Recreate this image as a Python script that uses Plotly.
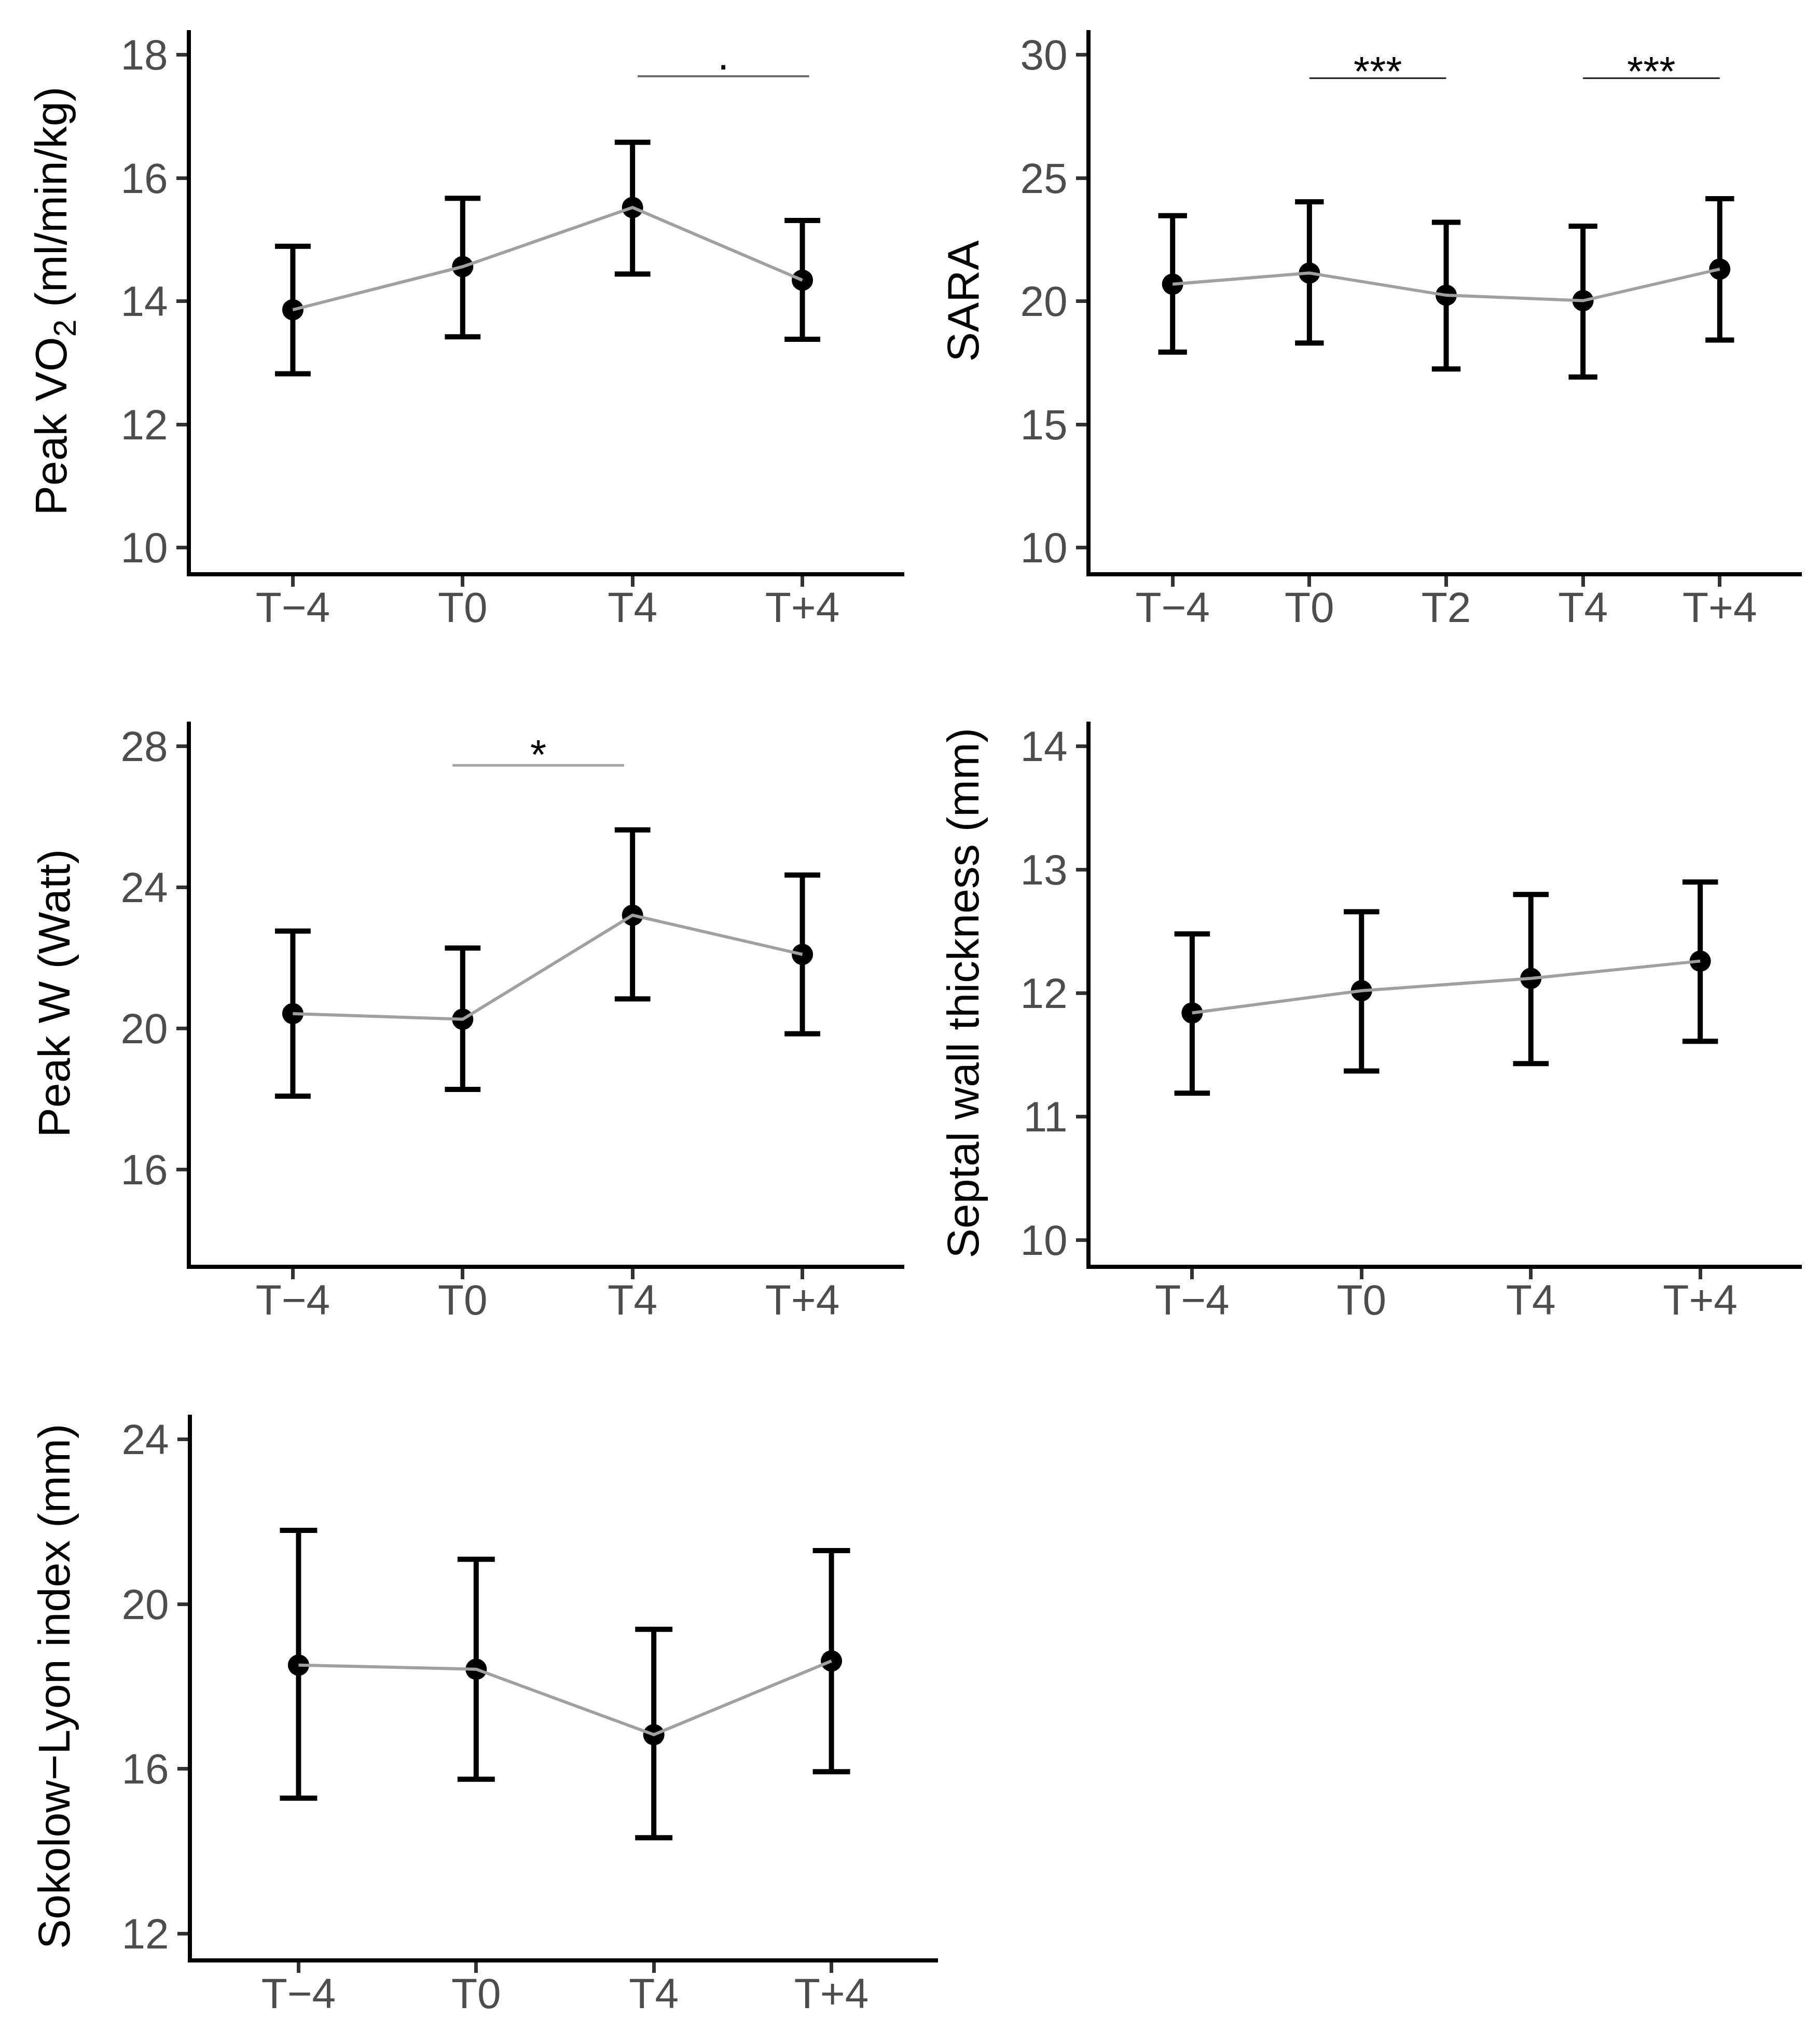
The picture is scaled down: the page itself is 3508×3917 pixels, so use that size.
import plotly.graph_objects as go

# ---- data ----
tp4 = ["T−4", "T0", "T4", "T+4"]
tp5 = ["T−4", "T0", "T2", "T4", "T+4"]

vo2_mean = [13.86, 14.56, 15.52, 14.34]
vo2_low = [12.82, 13.42, 14.44, 13.38]
vo2_high = [14.89, 15.67, 16.58, 15.31]

sara_mean = [20.69, 21.14, 20.24, 20.02, 21.30]
sara_low = [17.93, 18.30, 17.25, 16.92, 18.42]
sara_high = [23.47, 24.03, 23.20, 23.04, 24.16]

watt_mean = [20.42, 20.26, 23.21, 22.10]
watt_low = [18.08, 18.27, 20.84, 19.85]
watt_high = [22.76, 22.28, 25.63, 24.35]

septal_mean = [11.84, 12.02, 12.12, 12.26]
septal_low = [11.19, 11.37, 11.43, 11.61]
septal_high = [12.48, 12.66, 12.80, 12.90]

sokolow_mean = [18.52, 18.42, 16.83, 18.62]
sokolow_low = [15.29, 15.75, 14.33, 15.93]
sokolow_high = [21.79, 21.09, 19.39, 21.30]

# significance brackets: (from index, to index, y, label)
vo2_sig = [(2.03, 3.04, 17.65, ".")]
sara_sig = [(1, 2, 29.05, "***"), (3, 4, 29.05, "***")]
watt_sig = [(0.94, 1.95, 27.46, "*")]

W, H = 3508, 3917
FONT = "Liberation Sans, Arial, sans-serif"

panels = [
    dict(cats=tp4, mean=vo2_mean, low=vo2_low, high=vo2_high,
         title="Peak VO<sub>2</sub> (ml/min/kg)", yr=[9.6, 18.4], ticks=[10, 12, 14, 16, 18],
         xd=(360, 1735), yd=(50, 1095), sig=vo2_sig, sigc="#6e6e6e", sigw=4, tx=96),
    dict(cats=tp5, mean=sara_mean, low=sara_low, high=sara_high,
         title="SARA", yr=[9, 31], ticks=[10, 15, 20, 25, 30],
         xd=(2094, 3465), yd=(50, 1095), sig=sara_sig, sigc="#1a1a1a", sigw=3, tx=1848),
    dict(cats=tp4, mean=watt_mean, low=watt_low, high=watt_high,
         title="Peak W (Watt)", yr=[13.3, 28.7], ticks=[16, 20, 24, 28],
         xd=(360, 1735), yd=(1383, 2430), sig=watt_sig, sigc="#a6a6a6", sigw=5, tx=96),
    dict(cats=tp4, mean=septal_mean, low=septal_low, high=septal_high,
         title="Septal wall thickness (mm)", yr=[9.8, 14.2], ticks=[10, 11, 12, 13, 14],
         xd=(2094, 3465), yd=(1383, 2430), sig=[], sigc="#000", sigw=3, tx=1848),
    dict(cats=tp4, mean=sokolow_mean, low=sokolow_low, high=sokolow_high,
         title="Sokolow−Lyon index (mm)", yr=[11.4, 24.6], ticks=[12, 16, 20, 24],
         xd=(362, 1800), yd=(2719, 3767), sig=[], sigc="#000", sigw=3, tx=96),
]

fig = go.Figure()
shapes = []
annotations = []

for i, p in enumerate(panels, start=1):
    xa = "x" if i == 1 else f"x{i}"
    ya = "y" if i == 1 else f"y{i}"
    n = len(p["cats"])
    pos = list(range(n))
    spacing = (p["xd"][1] - p["xd"][0]) / (n + 0.2)
    err_plus = [h - m for h, m in zip(p["high"], p["mean"])]
    err_minus = [m - l for m, l in zip(p["mean"], p["low"])]

    # points with error bars, then the grey connecting line on top
    fig.add_trace(go.Scatter(
        x=pos, y=p["mean"], xaxis=xa, yaxis=ya, mode="markers",
        marker=dict(color="black", size=41),
        error_y=dict(type="data", symmetric=False, array=err_plus, arrayminus=err_minus,
                     color="black", thickness=10, width=0.105 * spacing),
        showlegend=False, hoverinfo="skip"))
    fig.add_trace(go.Scatter(
        x=pos, y=p["mean"], xaxis=xa, yaxis=ya, mode="lines",
        line=dict(color="#a0a0a0", width=6), showlegend=False, hoverinfo="skip"))

    xdom = [p["xd"][0] / W, p["xd"][1] / W]
    ydom = [1 - p["yd"][1] / H, 1 - p["yd"][0] / H]
    axis_common = dict(showline=True, linecolor="black", linewidth=8, showgrid=False,
                       zeroline=False, ticks="outside", ticklen=20, tickwidth=7,
                       tickcolor="#333333",
                       tickfont=dict(family=FONT, size=82, color="#4d4d4d"))
    fig.layout[f"xaxis{'' if i == 1 else i}"] = dict(
        axis_common, domain=xdom, anchor=ya, range=[-0.6, n - 0.4],
        tickmode="array", tickvals=pos, ticktext=p["cats"], ticklabelstandoff=-30)
    fig.layout[f"yaxis{'' if i == 1 else i}"] = dict(
        axis_common, domain=ydom, anchor=xa, range=p["yr"], tickvals=p["ticks"])

    annotations.append(dict(
        text=p["title"], textangle=-90, xref="paper", yref="paper",
        x=p["tx"] / W, y=(ydom[0] + ydom[1]) / 2, xanchor="center", yanchor="middle",
        showarrow=False, font=dict(family=FONT, size=86, color="black")))

    for x0, x1, yv, lab in p["sig"]:
        shapes.append(dict(type="line", xref=xa, yref=ya, x0=x0, x1=x1, y0=yv, y1=yv,
                           line=dict(color=p["sigc"], width=p["sigw"])))
        shift = 41 if lab == "." else (21 if lab == "*" else 13)
        annotations.append(dict(
            text=lab, xref=xa, yref=ya, x=(x0 + x1) / 2, y=yv, yshift=shift,
            xanchor="center", yanchor="middle", showarrow=False,
            font=dict(family=FONT, size=80, color="black")))

fig.update_layout(
    width=W, height=H, margin=dict(l=0, r=0, t=0, b=0),
    paper_bgcolor="white", plot_bgcolor="white",
    shapes=shapes, annotations=annotations, showlegend=False)

fig.write_html("out.html")
